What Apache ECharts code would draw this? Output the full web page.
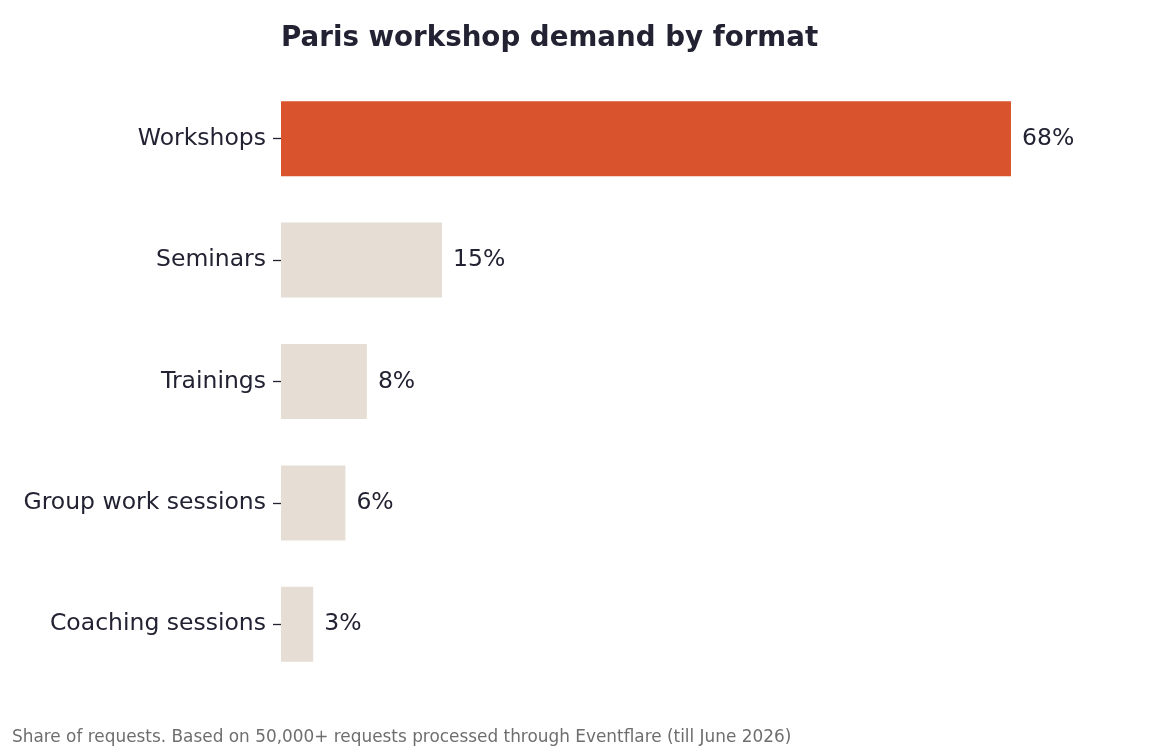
<!DOCTYPE html>
<html>
<head>
<meta charset="utf-8">
<script src="https://cdn.jsdelivr.net/npm/echarts@6/dist/echarts.min.js"></script>
<style>
  html, body { margin: 0; padding: 0; background: #fff; }
  #chart { width: 1152px; height: 752px; }
</style>
</head>
<body>
<div id="chart"></div>
<script>
// data
var categories = ['Workshops', 'Seminars', 'Trainings', 'Group work sessions', 'Coaching sessions'];
var shares = [68, 15, 8, 6, 3];
var highlight = 'Workshops';

var textColor = '#222233';
var chart = echarts.init(document.getElementById('chart'));

var option = {
    animation: false,
    title: [{
        text: 'Paris workshop demand by format',
        left: 281,
        top: 25,
        padding: 0,
        textStyle: {fontFamily: 'DejaVu Sans', fontSize: 27.7, fontWeight: 'bold', color: textColor}
    }, {
        text: 'Share of requests. Based on 50,000+ requests processed through Eventflare (till June 2026)',
        left: 12,
        top: 729.5,
        padding: 0,
        textStyle: {fontFamily: 'DejaVu Sans', fontSize: 16.9, fontWeight: 'normal', color: '#6e6e6e'}
    }],
    grid: {left: 281, top: 78, width: 858.8, height: 607},
    xAxis: {
        type: 'value',
        min: 0,
        max: 80,
        show: false
    },
    yAxis: {
        type: 'category',
        inverse: true,
        data: categories,
        axisLine: {show: false},
        axisTick: {show: true, length: 8, alignWithLabel: true, lineStyle: {color: textColor, width: 1.3}},
        axisLabel: {fontFamily: 'DejaVu Sans', fontSize: 23.5, color: textColor, margin: 15}
    },
    series: [{
        type: 'bar',
        barWidth: 75,
        data: shares.map(function (v, i) {
            return {
                value: v,
                itemStyle: {color: categories[i] === highlight ? '#D9532C' : '#E6DED4'}
            };
        }),
        label: {
            show: true,
            position: 'right',
            distance: 11,
            formatter: '{c}%',
            fontFamily: 'DejaVu Sans',
            fontSize: 23.5,
            color: textColor
        }
    }]
};
chart.setOption(option);
</script>
</body>
</html>
